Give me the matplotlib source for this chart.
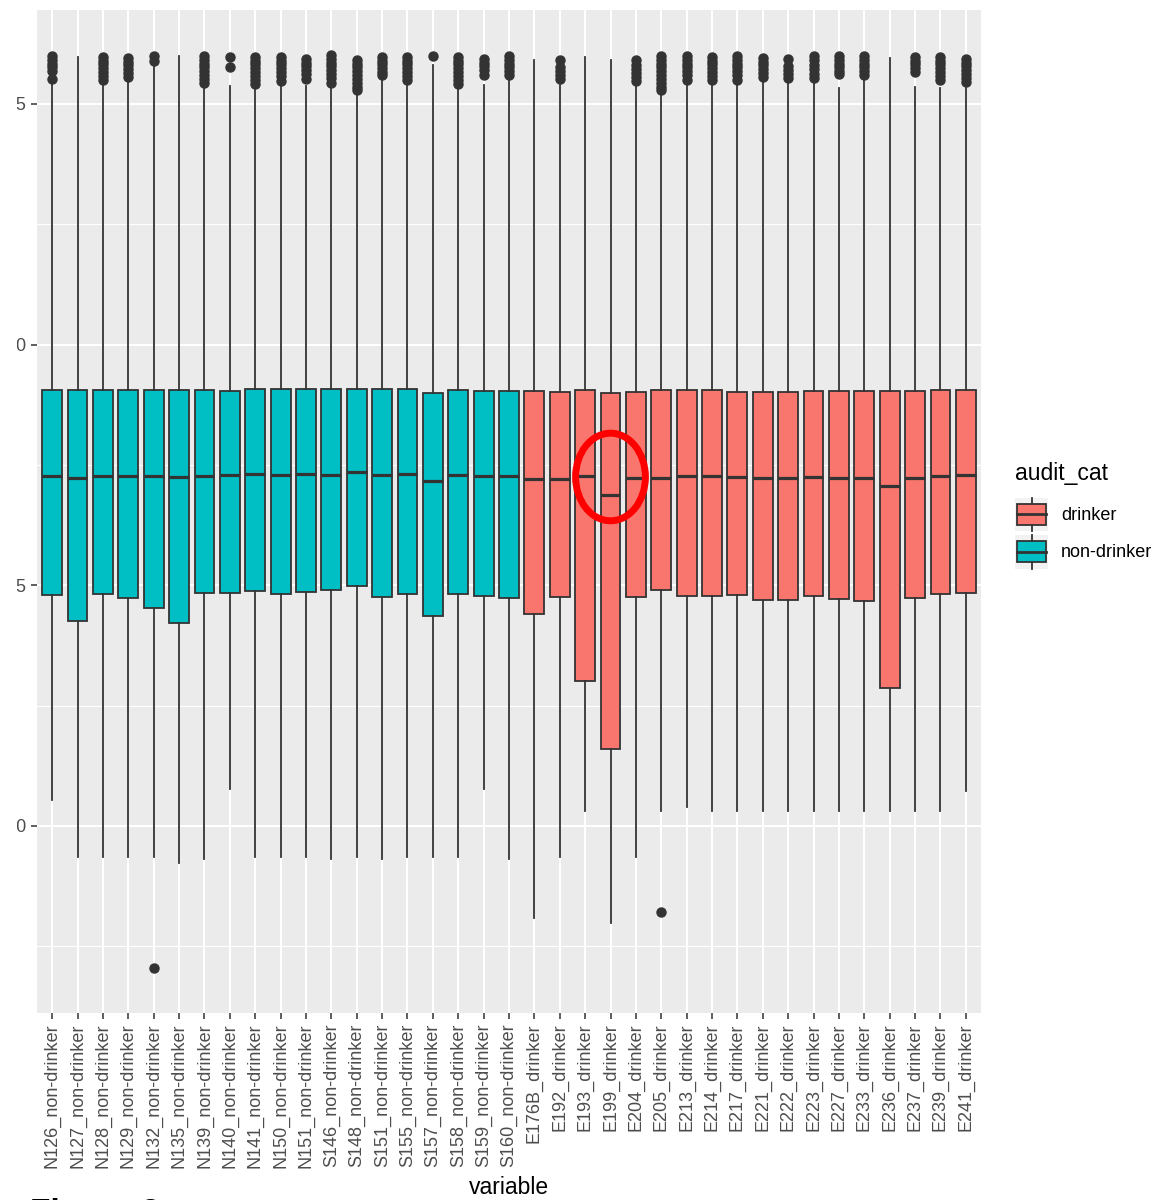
import numpy as np
import matplotlib
matplotlib.use("Agg")
import matplotlib.pyplot as plt
from matplotlib.patches import Rectangle, Ellipse, Patch
from matplotlib.lines import Line2D
from matplotlib.legend_handler import HandlerBase

plt.rcParams['font.family'] = ['Liberation Sans', 'DejaVu Sans']

# sample ids (x categories) and their audit group
variables = ["N126_non-drinker", "N127_non-drinker", "N128_non-drinker", "N129_non-drinker",
             "N132_non-drinker", "N135_non-drinker", "N139_non-drinker", "N140_non-drinker",
             "N141_non-drinker", "N150_non-drinker", "N151_non-drinker", "S146_non-drinker",
             "S148_non-drinker", "S151_non-drinker", "S155_non-drinker", "S157_non-drinker",
             "S158_non-drinker", "S159_non-drinker", "S160_non-drinker",
             "E176B_drinker", "E192_drinker", "E193_drinker", "E199_drinker", "E204_drinker",
             "E205_drinker", "E213_drinker", "E214_drinker", "E217_drinker", "E221_drinker",
             "E222_drinker", "E223_drinker", "E227_drinker", "E233_drinker", "E236_drinker",
             "E237_drinker", "E239_drinker", "E241_drinker"]
audit_cat = ["non-drinker"] * 19 + ["drinker"] * 18

# box statistics
q1 = [0.240, 0.213, 0.241, 0.237, 0.2265, 0.211, 0.242, 0.242, 0.244, 0.241, 0.243, 0.245,
      0.249, 0.238, 0.241, 0.218, 0.241, 0.239, 0.237,
      0.2205, 0.2376, 0.151, 0.080, 0.238, 0.2455, 0.239, 0.239, 0.2396, 0.235, 0.2345,
      0.2386, 0.236, 0.234, 0.143, 0.237, 0.2407, 0.2424]
med = [0.3633, 0.3618, 0.3639, 0.3633, 0.3633, 0.3622, 0.3639, 0.3643, 0.3656, 0.3649, 0.3653,
       0.3649, 0.3674, 0.3646, 0.3653, 0.3587, 0.3643, 0.3633, 0.3633,
       0.3605, 0.3608, 0.3633, 0.3435, 0.3612, 0.3618, 0.3639, 0.3636, 0.3628, 0.3615, 0.3618,
       0.3628, 0.3615, 0.3612, 0.3532, 0.3618, 0.3639, 0.3643]
q3 = [0.453, 0.453, 0.453, 0.453, 0.453, 0.453, 0.453, 0.452, 0.454, 0.454, 0.454, 0.454,
      0.454, 0.454, 0.454, 0.450, 0.453, 0.452, 0.452,
      0.452, 0.451, 0.453, 0.450, 0.451, 0.453, 0.453, 0.453, 0.451, 0.451, 0.451,
      0.452, 0.452, 0.452, 0.452, 0.452, 0.453, 0.453]
whislo = [0.027, -0.0325, -0.0325, -0.0325, -0.0325, -0.0387, -0.034, 0.0384, -0.0325, -0.0325,
          -0.0325, -0.034, -0.0325, -0.034, -0.0325, -0.0325, -0.0325, 0.0381, -0.034,
          -0.0959, -0.0325, 0.0159, -0.1005, -0.0325, 0.0159, 0.020, 0.0159, 0.0159, 0.0159,
          0.0159, 0.0159, 0.0159, 0.0159, 0.0159, 0.0159, 0.0159, 0.0367]
whishi = [0.773, 0.799, 0.770, 0.775, 0.790, 0.800, 0.767, 0.769, 0.766, 0.769, 0.769, 0.766,
          0.759, 0.776, 0.770, 0.790, 0.767, 0.770, 0.776,
          0.796, 0.770, 0.799, 0.796, 0.770, 0.760, 0.771, 0.771, 0.771, 0.775, 0.773,
          0.772, 0.767, 0.777, 0.798, 0.768, 0.767, 0.767]
outliers = [
    [0.800, 0.796, 0.792, 0.788, 0.784, 0.776],
    [],
    [0.799, 0.795, 0.791, 0.787, 0.783, 0.779, 0.775],
    [0.798, 0.794, 0.790, 0.786, 0.782, 0.778],
    [0.800, 0.795, -0.1475],
    [],
    [0.800, 0.796, 0.792, 0.788, 0.784, 0.780, 0.776, 0.772],
    [0.799, 0.788],
    [0.799, 0.795, 0.791, 0.787, 0.783, 0.779, 0.775, 0.771],
    [0.799, 0.795, 0.791, 0.787, 0.783, 0.779, 0.774],
    [0.797, 0.793, 0.789, 0.785, 0.781, 0.776],
    [0.801, 0.797, 0.793, 0.789, 0.785, 0.781, 0.777, 0.772],
    [0.796, 0.792, 0.788, 0.784, 0.780, 0.776, 0.772, 0.768, 0.764],
    [0.799, 0.795, 0.791, 0.787, 0.783, 0.780],
    [0.799, 0.795, 0.791, 0.787, 0.783, 0.779, 0.775],
    [0.800],
    [0.799, 0.795, 0.791, 0.787, 0.783, 0.779, 0.775, 0.771],
    [0.797, 0.793, 0.789, 0.785, 0.780],
    [0.800, 0.796, 0.792, 0.788, 0.784, 0.780],
    [],
    [0.796, 0.788, 0.784, 0.780, 0.776],
    [],
    [],
    [0.796, 0.790, 0.786, 0.782, 0.778, 0.774],
    [0.800, 0.796, 0.792, 0.788, 0.784, 0.780, 0.776, 0.772, 0.768, 0.764, -0.0893],
    [0.800, 0.796, 0.792, 0.788, 0.784, 0.780, 0.775],
    [0.799, 0.795, 0.791, 0.787, 0.783, 0.779, 0.775],
    [0.800, 0.796, 0.792, 0.788, 0.784, 0.780, 0.775],
    [0.798, 0.794, 0.790, 0.786, 0.782, 0.778],
    [0.797, 0.789, 0.785, 0.781, 0.777],
    [0.800, 0.796, 0.790, 0.786, 0.781, 0.777],
    [0.800, 0.796, 0.792, 0.788, 0.784, 0.781],
    [0.800, 0.796, 0.792, 0.788, 0.784, 0.780],
    [],
    [0.799, 0.795, 0.791, 0.787, 0.783],
    [0.799, 0.795, 0.791, 0.787, 0.783, 0.779, 0.775],
    [0.797, 0.793, 0.789, 0.785, 0.781, 0.777, 0.773],
]

highlight = "E199_drinker"

fill_colors = {"drinker": "#F8766D", "non-drinker": "#00BFC4"}
edge = "#333333"

W, H = 1159, 1200
fig = plt.figure(figsize=(W / 100, H / 100), dpi=100)
ax = fig.add_axes([37 / W, 1 - 1013 / H, (981 - 37) / W, (1013 - 10) / H])
ax.set_facecolor("#EBEBEB")

stats = []
for i in range(len(variables)):
    stats.append(dict(med=med[i], q1=q1[i], q3=q3[i], whislo=whislo[i], whishi=whishi[i],
                      fliers=outliers[i], label=variables[i]))

pos = np.arange(len(variables))
bp = ax.bxp(stats, positions=pos, widths=0.78, patch_artist=True, showcaps=False,
            boxprops=dict(edgecolor=edge, linewidth=1.3),
            medianprops=dict(color=edge, linewidth=2.3, solid_capstyle='butt'),
            whiskerprops=dict(color=edge, linewidth=1.3),
            flierprops=dict(marker='o', markerfacecolor=edge, markeredgecolor=edge,
                            markersize=6.5, linestyle='none'))
for patch, g in zip(bp['boxes'], audit_cat):
    patch.set_facecolor(fill_colors[g])

# red circle around E199 median
k = variables.index(highlight)
ax.add_patch(Ellipse((pos[k], med[k] + 0.019), 2.75, 0.091, fill=False, edgecolor="#FF0000",
                     linewidth=5, zorder=5))

ax.set_xlim(-0.6, len(variables) - 0.4)
ax.set_ylim(-0.1943, 0.8476)
ax.set_yticks([0, 0.25, 0.5, 0.75])
ax.set_yticklabels(["0.00", "0.25", "0.50", "0.75"])
ax.set_yticks([-0.125, 0.125, 0.375, 0.625], minor=True)
ax.set_xticks(pos)
ax.set_xticklabels(variables, rotation=90)
ax.grid(True, which='major', color='white', linewidth=1.5)
ax.grid(True, which='minor', axis='y', color='white', linewidth=0.8)
ax.set_axisbelow(True)
for s in ax.spines.values():
    s.set_visible(False)
ax.tick_params(axis='both', which='major', colors=edge, labelcolor="#4D4D4D",
               labelsize=13, length=4.5, width=1.1, pad=3)
ax.tick_params(axis='y', which='minor', length=0)
ax.set_xlabel("variable", fontsize=16.5, color='black', labelpad=6)


# ggplot style legend key
class BoxKey(HandlerBase):
    def create_artists(self, legend, orig_handle, xdescent, ydescent, width, height, fontsize, trans):
        x0, y0 = -xdescent, -ydescent
        bg = Rectangle((x0, y0), width, height, facecolor="#F2F2F2", edgecolor='none', transform=trans)
        bw = width * 0.88
        bh = height * 0.6
        bx = x0 + (width - bw) / 2
        by = y0 + (height - bh) / 2
        box = Rectangle((bx, by), bw, bh, facecolor=orig_handle.get_facecolor(), edgecolor=edge,
                        linewidth=1.3, transform=trans)
        cx = x0 + width / 2
        mid = Line2D([bx, bx + bw], [y0 + height / 2] * 2, color=edge, linewidth=2, transform=trans)
        w1 = Line2D([cx, cx], [y0, by], color=edge, linewidth=1.3, transform=trans)
        w2 = Line2D([cx, cx], [by + bh, y0 + height], color=edge, linewidth=1.3, transform=trans)
        return [bg, box, mid, w1, w2]


handles = [Patch(facecolor=fill_colors["drinker"]), Patch(facecolor=fill_colors["non-drinker"])]
leg = fig.legend(handles, ["drinker", "non-drinker"], title="audit_cat", loc='upper left',
                 bbox_to_anchor=(1015 / W, 1 - 462 / H), frameon=False, fontsize=13,
                 title_fontsize=16.5, handler_map={Patch: BoxKey()}, handlelength=1.83,
                 handleheight=2.52, labelspacing=0.17, handletextpad=0.72, borderpad=0,
                 borderaxespad=0, alignment='left')
leg._legend_box.sep = 9

# picture is cropped on the left and bottom
fig.add_artist(Rectangle((0, 0), 17 / W, 1, transform=fig.transFigure, facecolor='white',
                         edgecolor='none', zorder=10))
fig.text(30 / W, -0.018, "Figure 2", fontsize=24, fontweight='bold', va='baseline', ha='left')

fig.savefig("out.png", dpi=100)
